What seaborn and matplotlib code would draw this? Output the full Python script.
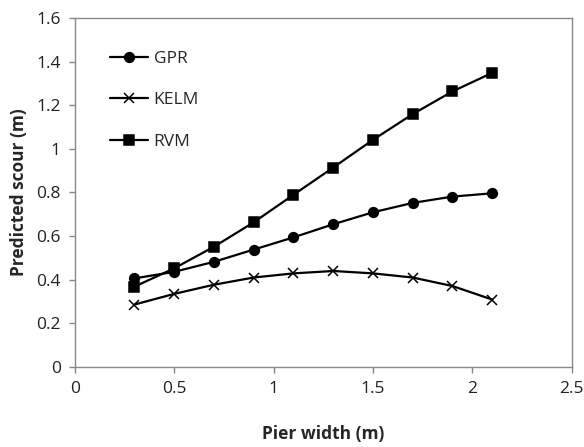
import numpy as np
import pandas as pd
import matplotlib as mpl
mpl.use('Agg')
import matplotlib.pyplot as plt
import seaborn as sns

# ============================================ #
# data
# ============================================ #

pier_width = [0.3, 0.5, 0.7, 0.9, 1.1, 1.3, 1.5, 1.7, 1.9, 2.1]
gpr = [0.406, 0.436, 0.482, 0.538, 0.594, 0.654, 0.709, 0.752, 0.781, 0.796]
kelm = [0.286, 0.335, 0.377, 0.410, 0.429, 0.440, 0.429, 0.410, 0.371, 0.309]
rvm = [0.368, 0.452, 0.551, 0.663, 0.789, 0.914, 1.041, 1.159, 1.263, 1.348]

models = ['GPR', 'KELM', 'RVM']
markers = {'GPR': 'o', 'KELM': 'x', 'RVM': 's'}
msizes = {'GPR': 7, 'KELM': 6.5, 'RVM': 6.5}

df = pd.DataFrame({'width': pier_width * 3,
                   'scour': gpr + kelm + rvm,
                   'model': np.repeat(models, len(pier_width))})

sns.set_style('white')
plt.rcParams['font.family'] = ['Open Sans', 'DejaVu Sans']

fig = plt.figure(figsize=(5.84, 4.47), dpi=100)
ax = fig.add_axes([0.128, 0.179, 0.851, 0.781])

for m in models:
    sns.lineplot(data=df[df.model == m], x='width', y='scour',
                 color='black', lw=1.6, marker=markers[m], ms=msizes[m],
                 mec='black', mfc='black', mew=1.1, label=m, ax=ax)

ax.set_xlim(0, 2.5)
ax.set_ylim(0, 1.6)
ax.set_xticks(np.arange(0, 2.51, 0.5))
ax.set_xticklabels(['0', '0.5', '1', '1.5', '2', '2.5'])
ax.set_yticks(np.arange(0, 1.61, 0.2))
ax.set_yticklabels(['0', '0.2', '0.4', '0.6', '0.8', '1', '1.2', '1.4', '1.6'])

for s in ax.spines.values():
    s.set_color('#888888')
    s.set_linewidth(1.0)
ax.tick_params(axis='both', direction='out', length=4, width=1,
               color='#888888', labelcolor='#222222', labelsize=12.5,
               pad=6, left=True, bottom=True)

ax.set_xlabel('Pier width (m)', fontsize=12.5, fontweight='bold', labelpad=20)
ax.set_ylabel('Predicted scour (m)', fontsize=12.5, fontweight='bold', labelpad=6)

leg = ax.legend(loc='upper left', bbox_to_anchor=(0.04, 0.95), frameon=False,
                fontsize=12.5, handlelength=2.2, handletextpad=0.3,
                labelspacing=1.45)

fig.savefig('out.png', dpi=100)
